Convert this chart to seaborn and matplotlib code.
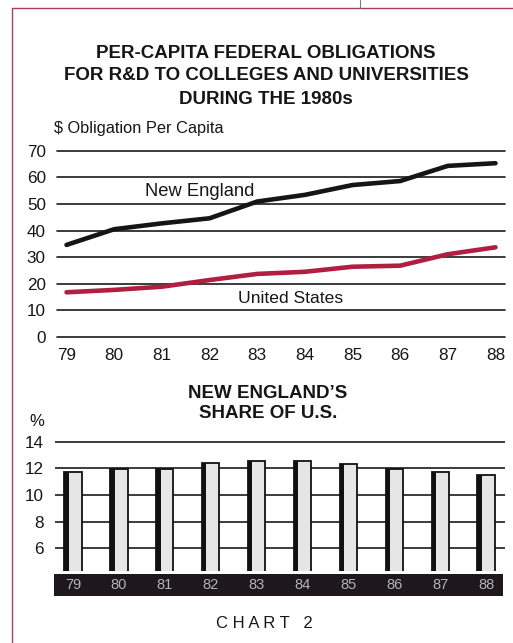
import numpy as np
import pandas as pd
import matplotlib
matplotlib.use("Agg")
import matplotlib.pyplot as plt
from matplotlib.lines import Line2D
from matplotlib.patches import Rectangle
import seaborn as sns

# ---- data ----
years = [79, 80, 81, 82, 83, 84, 85, 86, 87, 88]
year_labels = ["79", "80", "81", "82", "83", "84", "85", "86", "87", "88"]
new_england = [34.6, 40.5, 42.7, 44.6, 50.9, 53.4, 57.1, 58.6, 64.3, 65.3]
united_states = [16.8, 17.7, 18.9, 21.4, 23.7, 24.5, 26.4, 26.8, 31.1, 33.7]
ne_share = [11.75, 11.93, 11.93, 12.38, 12.55, 12.55, 12.33, 11.93, 11.7, 11.5]
top_yticks = [0, 10, 20, 30, 40, 50, 60, 70]
bar_yticks = [6, 8, 10, 12, 14]

sns.set_theme(style="white")
plt.rcParams["font.family"] = ["Liberation Sans", "DejaVu Sans"]

W, H = 513, 643
fig = plt.figure(figsize=(W / 100, H / 100), dpi=100)
fig.patch.set_facecolor("white")

def fx(px):
    return px / W

def fy(py):
    return 1 - py / H

TXT = "#161616"

# frame lines (page layout)
frame_col = "#a8405a"
fig.add_artist(Line2D([fx(12), fx(12)], [fy(8), 0], color=frame_col, lw=1.0))
fig.add_artist(Line2D([fx(12), 1], [fy(8), fy(8)], color=frame_col, lw=1.0))
fig.add_artist(Line2D([fx(360), fx(360)], [1, fy(8)], color="#777777", lw=0.8))

# titles
title_lines = ["PER-CAPITA FEDERAL OBLIGATIONS",
               "FOR R&D TO COLLEGES AND UNIVERSITIES",
               "DURING THE 1980s"]
for i, t in enumerate(title_lines):
    fig.text(fx(266), fy(53 + 23 * i), t, ha="center", va="center",
             fontsize=13.5, fontweight="bold", color=TXT)
fig.text(fx(54), fy(128), "$ Obligation Per Capita", ha="left", va="center",
         fontsize=11.8, color=TXT)

# ---- top line chart ----
ax1 = fig.add_axes([fx(57), fy(337), fx(505) - fx(57), fy(150.7) - fy(337)])
df = pd.DataFrame({"year": years * 2,
                   "value": new_england + united_states,
                   "region": ["New England"] * 10 + ["United States"] * 10})
sns.lineplot(data=df, x="year", y="value", hue="region",
             palette={"New England": "#151515", "United States": "#b01f40"},
             linewidth=3.3, ax=ax1, legend=False, clip_on=False)
for ln in ax1.lines:
    ln.set_solid_joinstyle("round")
    ln.set_solid_capstyle("round")
    ln.set_zorder(5)
ax1.set_xlim(78.8, 88.2)
ax1.set_ylim(0, 70)
ax1.set_yticks(top_yticks)
ax1.set_yticklabels([str(v) for v in top_yticks])
ax1.set_xticks(years)
ax1.set_xticklabels(year_labels)
ax1.grid(False)
for v in top_yticks:
    ax1.axhline(v, color="#1a1a1a", lw=1.2, zorder=1, clip_on=False)
for s in ax1.spines.values():
    s.set_visible(False)
ax1.tick_params(axis="y", length=0, pad=8, labelsize=12.3, labelcolor=TXT)
ax1.tick_params(axis="x", length=0, pad=8, labelsize=12.3, labelcolor=TXT)
ax1.set_xlabel("")
ax1.set_ylabel("")
ax1.set_facecolor("none")
ax1.text(81.79, 54.5, "New England", ha="center", va="center", fontsize=13.2, color=TXT)
ax1.text(83.7, 14.5, "United States", ha="center", va="center", fontsize=12.6, color=TXT)

# ---- bar chart ----
fig.text(fx(268), fy(393), "NEW ENGLAND\u2019S", ha="center", va="center",
         fontsize=13.5, fontweight="bold", color=TXT)
fig.text(fx(268), fy(414), "SHARE OF U.S.", ha="center", va="center",
         fontsize=13.5, fontweight="bold", color=TXT)
fig.text(fx(29), fy(421), "%", ha="left", va="center", fontsize=12, color=TXT)

ymin_b, ymax_b = 4.32, 14.2
px_per_unit = 13.33
ax2_bottom_px = 570.7
ax2_top_px = ax2_bottom_px - (ymax_b - ymin_b) * px_per_unit
ax2 = fig.add_axes([fx(55), fy(ax2_bottom_px), fx(505) - fx(55), fy(ax2_top_px) - fy(ax2_bottom_px)])
bdf = pd.DataFrame({"year": year_labels, "share": ne_share})
sns.barplot(data=bdf, x="year", y="share", color="#e6e6e6", edgecolor="#111111",
            linewidth=1.3, width=0.38, ax=ax2, zorder=3, saturation=1)
for p in list(ax2.patches):
    ax2.add_patch(Rectangle((p.get_x(), p.get_y()), p.get_width() * 0.26, p.get_height(),
                            facecolor="#111111", edgecolor="none", zorder=4))
ax2.set_xlim(-0.39, 9.41)
ax2.set_ylim(ymin_b, ymax_b)
ax2.set_yticks(bar_yticks)
ax2.set_yticklabels([str(v) for v in bar_yticks])
ax2.set_xticks([])
for v in bar_yticks:
    ax2.axhline(v, color="#1a1a1a", lw=1.2, zorder=1)
for s in ax2.spines.values():
    s.set_visible(False)
ax2.tick_params(axis="y", length=0, pad=8, labelsize=12.3, labelcolor=TXT)
ax2.set_xlabel("")
ax2.set_ylabel("")
ax2.set_facecolor("none")
ax2.grid(False)

# dark band with year labels
ax3 = fig.add_axes([fx(54), fy(596), fx(503) - fx(54), fy(574.3) - fy(596)])
ax3.set_facecolor("#1e181c")
ax3.set_xlim(-0.414, 9.370)
ax3.set_ylim(0, 1)
for i, lab in enumerate(year_labels):
    ax3.text(i, 0.5, lab, ha="center", va="center", fontsize=10.5, color="#b4b4b4")
ax3.set_xticks([])
ax3.set_yticks([])
for s in ax3.spines.values():
    s.set_visible(False)

fig.text(fx(264), fy(623), "C H A R T   2", ha="center", va="center",
         fontsize=12, color=TXT)

fig.savefig("out.png", dpi=100)
